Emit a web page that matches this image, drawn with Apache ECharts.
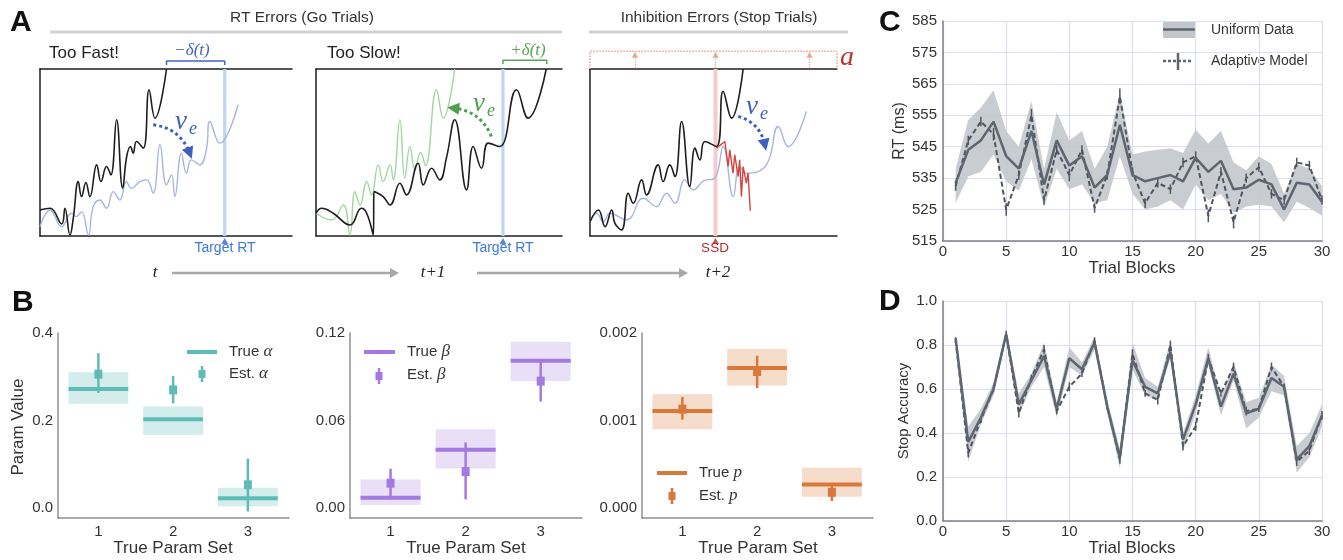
<!DOCTYPE html>
<html><head><meta charset="utf-8">
<script src="https://cdn.jsdelivr.net/npm/echarts@6.0.0/dist/echarts.min.js"></script>
<style>html,body{margin:0;padding:0;background:#fff}#c{width:1343px;height:560px}</style>
</head><body><div id="c"></div><script>
const F = '"Liberation Sans", Arial, Helvetica, sans-serif';
const SERIF = '"Liberation Serif", "Times New Roman", serif';

// ---------- Panel A : schematic traces, [x, y] in box units (0-100) ----------
const a1Black = [[0,15.6],[4,16.6],[8.6,7.2],[9.9,16.6],[11.9,0.6],[13.2,10.6],[15.2,32.6],[16.5,23.6],[18.2,32],[19.8,23.6],[22.5,42.6],[24.2,32.6],[26.4,41.6],[28.1,36.6],[30.4,69.6],[32.8,28.6],[34.4,47.6],[35.9,53.6],[37,49.6],[38.3,56.6],[41,52.6],[43.3,87.6],[45.6,70.6],[50.2,100]];
const a1Blue = [[0,5.6],[4,15.6],[8.6,5.6],[12.5,13.6],[14.5,11.6],[16.5,14.6],[19.2,0.6],[21.1,17.6],[23.8,21.6],[26.4,16.6],[29.1,26.6],[31.7,21.6],[34.3,32.6],[36.3,28.6],[39.6,32.6],[42.3,33.6],[44.9,25.6],[47.6,54.6],[50.2,30.6],[52.2,36.6],[53.5,23.6],[56.1,49.6],[58.1,37.6],[60.1,45.6],[63.4,42.6],[66,51.6],[67.4,68.6],[71.3,55.6],[78.6,78.6]];
const a2Black = [[0,13.6],[2.3,16.6],[7,13.6],[13.8,6.6],[18.5,16.6],[20.6,13.6],[23.3,0.6],[23.6,26.6],[27.3,23.6],[30.1,18.6],[34.1,31.6],[36.8,24.6],[41.5,43.6],[43.6,30.6],[47,40.6],[50.3,33.6],[53,46.6],[56.4,69.6],[61.2,27.6],[63.9,53.6],[67.3,40.6],[70,55.6],[74.7,53.6],[81.5,87.6],[86.2,70.6],[93.6,100]];
const a2Green = [[0,13.6],[6.4,9.6],[11.1,18.6],[13.8,0.6],[15.8,26.6],[17.9,18.6],[20.6,32.6],[22.6,24.6],[25.3,42.6],[27.3,32.6],[30.1,42.6],[31.4,33.6],[34.1,69.6],[36.1,34.6],[38.2,53.6],[40.2,39.6],[42.5,50],[44.5,42],[49,87.6],[51.7,70.6],[56.4,100]];
const a3Black = [[0,8.6],[3.4,15.6],[6.1,5.6],[8.8,15.6],[10.1,7.6],[12.8,3.6],[15.5,25.6],[17.5,19.6],[20.9,33.6],[22.9,24.6],[27.6,42.6],[29.6,32.6],[32.3,42.6],[34.4,35.6],[37.1,68.6],[40.4,29.6],[42.5,52.6],[44.5,45.6],[46.5,56.6],[51.2,53.6],[53.9,86.6],[57.3,70.6],[62,100]];
const a3Blue = [[0,8.6],[2.7,13.6],[5.4,8.6],[8.1,13.6],[14.8,9.6],[21.6,22.6],[26.9,17.6],[31,25.6],[34.4,19.6],[38.4,33.6],[41.8,27.6],[46,33],[50.5,34.6],[53.9,53.6],[58,23.6],[60.6,41.6],[63.3,37.6],[71.4,42.6],[76.2,65.6],[80.2,53.6],[87.6,74.6]];
const a3Red = [[51.2,52.6],[54.6,56.6],[55.9,41.6],[56.6,51.6],[57.9,37.6],[58.6,48.6],[60,35.6],[60.6,45.6],[61.3,23.6],[62,41.6],[63.3,31.6],[64,37.6],[64.9,15.2]];
const a1TargetRT = 73.3, a2TargetRT = 76.0, a3SSD = 50.8;
const a1Arrow = [[44.9,66.6],[59.4,49.6]];
const a2Arrow = [[71.3,59.6],[55.8,76.6]];
const a3Arrow = [[60,71.6],[70.8,54.6]];
const a3ThreshArrowsX = [18.2, 50.8, 88.9];

// ---------- Panel B ----------
const paramSets = [1, 2, 3];
const alphaTrue = [0.272, 0.203, 0.022];
const alphaBandLo = [0.238, 0.167, 0.004];
const alphaBandHi = [0.310, 0.232, 0.046];
const alphaEst = [0.306, 0.270, 0.053];
const alphaEstLo = [0.263, 0.239, -0.008];
const alphaEstHi = [0.354, 0.302, 0.113];
const betaTrue = [0.007, 0.040, 0.101];
const betaBandLo = [0.002, 0.027, 0.087];
const betaBandHi = [0.0195, 0.054, 0.114];
const betaEst = [0.017, 0.025, 0.087];
const betaEstLo = [0.006, 0.006, 0.073];
const betaEstHi = [0.027, 0.045, 0.102];
const pTrue = [0.00111, 0.00160, 0.00027];
const pBandLo = [0.00090, 0.00140, 0.00013];
const pBandHi = [0.00130, 0.00182, 0.00046];
const pEst = [0.00113, 0.00156, 0.00018];
const pEstLo = [0.00101, 0.00137, 0.00008];
const pEstHi = [0.00127, 0.00174, 0.00028];

// ---------- Panel C ----------
const blocks = [1,2,3,4,5,6,7,8,9,10,11,12,13,14,15,16,17,18,19,20,21,22,23,24,25,26,27,28,29,30];
const rtMean = [533.5,544,547,553,542,538,550,533,547,539,542,532,536,552,536,534,535,536,534,541.5,537,540.5,531.5,532,534.5,533,525,533.5,533,527.5];
const rtLo = [527,535.5,537,542.5,534,531,541,526,538,531.5,533,527,528,542,530,525,526,528,525,533,528,530,524,526,526.5,526,521,527.5,525.5,523];
const rtHi = [538,553.5,557.5,563,550,545,559.5,538,556,547,550,538,545,562,542.5,543.5,544,544.5,543,550.5,546,550,540,537.5,542,539.5,530,539.5,538,532.5];
const rtModel = [532.5,547,553,549,525,536,555,528,544,536,544,525.5,536,561,537,527,533.5,531.5,540,542,523,537,521,535,538.5,530,528,540,539,528];
const rtModelErr = [1.5,1.5,1.5,2,2,1.5,2,1.5,1.5,2,1.5,1.5,1.5,2.5,1.5,1.5,1.5,1.5,1.5,1.5,2,1.5,2,1.5,1.5,1.5,1.5,1.5,1.5,1.5];

// ---------- Panel D ----------
const accMean = [0.83,0.36,0.47,0.60,0.85,0.53,0.64,0.75,0.51,0.74,0.69,0.81,0.52,0.29,0.73,0.61,0.58,0.77,0.37,0.53,0.74,0.52,0.67,0.49,0.51,0.65,0.61,0.28,0.34,0.48];
const accLo = [0.81,0.27,0.44,0.57,0.83,0.48,0.61,0.70,0.47,0.70,0.66,0.78,0.49,0.24,0.69,0.57,0.55,0.74,0.32,0.49,0.71,0.48,0.64,0.42,0.47,0.59,0.57,0.22,0.29,0.43];
const accHi = [0.85,0.43,0.51,0.63,0.87,0.58,0.67,0.81,0.54,0.79,0.72,0.84,0.55,0.33,0.81,0.65,0.61,0.82,0.40,0.57,0.79,0.56,0.72,0.54,0.56,0.71,0.66,0.34,0.40,0.53];
const accModel = [0.82,0.31,0.46,0.60,0.85,0.49,0.65,0.78,0.50,0.61,0.67,0.82,0.52,0.28,0.76,0.58,0.55,0.80,0.34,0.43,0.74,0.58,0.70,0.50,0.51,0.70,0.61,0.27,0.32,0.48];
const accModelErr = [0.015,0.02,0.015,0.015,0.015,0.02,0.015,0.02,0.015,0.02,0.015,0.015,0.015,0.02,0.02,0.015,0.02,0.02,0.02,0.02,0.02,0.015,0.02,0.02,0.015,0.02,0.015,0.02,0.02,0.02];

// ================= chart =================
const chart = echarts.init(document.getElementById('c'));
const grids = [
  {left:40, top:69, width:252, height:167},
  {left:316, top:69, width:246, height:167},
  {left:590, top:69, width:247, height:167},
  {left:58, top:333, width:231, height:185},
  {left:350, top:333, width:232, height:185},
  {left:642, top:333, width:231, height:185},
  {left:943, top:21, width:379, height:220},
  {left:943, top:301, width:379, height:220}
].map(g => Object.assign({outerBoundsMode:'none', containLabel:false}, g));

const BOX = '#1e1e1e';
const boxAxis = (gi, pos) => ({gridIndex:gi, type:'value', min:0, max:100, position:pos,
  axisLine:{show:true, onZero:false, lineStyle:{color:BOX, width:1.5}},
  axisTick:{show:false}, axisLabel:{show:false}, splitLine:{show:false}});
const BAX = '#8c8f94';
const bX = gi => ({gridIndex:gi, type:'value', min:0.46, max:3.55,
  axisLine:{show:true, onZero:false, lineStyle:{color:BAX, width:1.5}},
  axisTick:{show:false}, splitLine:{show:false},
  axisLabel:{customValues:paramSets, margin:6, fontSize:15, color:'#333', fontFamily:F}});
const bY = (gi, min, max, ticks, dec) => ({gridIndex:gi, type:'value', min, max,
  axisLine:{show:true, onZero:false, lineStyle:{color:BAX, width:1.5}},
  axisTick:{show:false}, splitLine:{show:false},
  axisLabel:{customValues:ticks, formatter:v => v.toFixed(dec), margin:5, fontSize:15, color:'#333', fontFamily:F}});
const CAX = '#7d8189', CGRID = '#dcdcf3';
const cX = gi => ({gridIndex:gi, type:'value', min:0, max:30, interval:5,
  axisLine:{show:true, onZero:false, lineStyle:{color:CAX, width:1.5}},
  axisTick:{show:false}, splitLine:{show:true, lineStyle:{color:CGRID, width:1.2}},
  axisLabel:{margin:3, fontSize:15, color:'#333', fontFamily:F}});

const xAxis = [boxAxis(0,'bottom'), boxAxis(1,'bottom'), boxAxis(2,'bottom'), bX(3), bX(4), bX(5), cX(6), cX(7),
  boxAxis(0,'top'), boxAxis(1,'top'), boxAxis(2,'top')];
const yAxis = [boxAxis(0,'left'), boxAxis(1,'left'), boxAxis(2,'left'),
  bY(3, -0.0229, 0.4, [0, 0.2, 0.4], 1),
  bY(4, -0.00686, 0.12, [0, 0.06, 0.12], 2),
  bY(5, -0.000114, 0.002, [0, 0.001, 0.002], 3),
  {gridIndex:6, type:'value', min:515, max:585, interval:10,
   axisLine:{show:true, onZero:false, lineStyle:{color:CAX, width:1.5}}, axisTick:{show:false},
   splitLine:{show:true, lineStyle:{color:CGRID, width:1.2}},
   axisLabel:{margin:6, fontSize:15, color:'#333', fontFamily:F}},
  {gridIndex:7, type:'value', min:0, max:1, interval:0.2,
   axisLine:{show:true, onZero:false, lineStyle:{color:CAX, width:1.5}}, axisTick:{show:false},
   splitLine:{show:true, lineStyle:{color:CGRID, width:1.2}},
   axisLabel:{margin:6, fontSize:15, color:'#333', fontFamily:F, formatter:v => v.toFixed(1)}}
];

const series = [];
function addLine(gi, data, color, width, smooth, z, type) {
  series.push({type:'line', xAxisIndex:gi, yAxisIndex:gi, data, symbol:'none', smooth:smooth, clip:false,
    silent:true, z:z || 2, lineStyle:{color, width, type:type || 'solid'}});
}
function addArrow(gi, coords, color, width, curv, size, type) {
  series.push({type:'lines', coordinateSystem:'cartesian2d', xAxisIndex:gi, yAxisIndex:gi, clip:false, silent:true, z:5,
    data:[{coords}], symbol:['none','triangle'], symbolSize:size,
    lineStyle:{color, width, type:type || 'dotted', curveness:curv, opacity:1}});
}
function addTri(gi, x, color) {
  series.push({type:'scatter', xAxisIndex:gi, yAxisIndex:gi, data:[[x,0]], symbol:'triangle', symbolSize:[7,6],
    symbolOffset:[0,5], clip:false, silent:true, itemStyle:{color}, z:4});
}

// A1
addLine(0, [[a1TargetRT,0],[a1TargetRT,100]], '#bfd4f6', 3.2, false, 1);
addLine(0, a1Blue, '#a6b6e2', 1.4, 0.45);
addLine(0, a1Black, '#1e1e1e', 1.6, 0.45, 3);
addLine(0, [[50.2,102.4],[50.2,104.8],[a1TargetRT,104.8],[a1TargetRT,102.4]], '#4563c0', 1.5, false);
addArrow(0, a1Arrow, '#3f5fbf', 3, 0.3, 12);
addTri(0, a1TargetRT, '#3c64c8');
// A2
addLine(1, [[a2TargetRT,0],[a2TargetRT,100]], '#bfd4f6', 3.2, false, 1);
addLine(1, a2Green, '#a2d5a0', 1.4, 0.45);
addLine(1, a2Black, '#1e1e1e', 1.6, 0.45, 3);
addLine(1, [[a2TargetRT,103],[a2TargetRT,105.2],[93.8,105.2],[93.8,103]], '#58a558', 1.5, false);
addArrow(1, a2Arrow, '#4f9f4f', 3, -0.3, 12);
addTri(1, a2TargetRT, '#3c64c8');
// A3
addLine(2, [[a3SSD,0],[a3SSD,100]], '#f5cccc', 4, false, 1);
addLine(2, a3Blue, '#a6b6e2', 1.4, 0.45);
addLine(2, a3Black, '#1e1e1e', 1.6, 0.45, 3);
addLine(2, a3Red, '#d6443f', 1.4, false, 4);
addLine(2, [[0,100],[0,110.6],[100,110.6],[100,100]], '#e6a596', 1.5, false, 2, 'dotted');
a3ThreshArrowsX.forEach(x => addArrow(2, [[x,100.5],[x,108.6]], '#e6a596', 1.3, 0, 6));
addArrow(2, a3Arrow, '#3f5fbf', 3, 0.3, 12);
addTri(2, a3SSD, '#b0302c');

// B
function trueRender(color, band) {
  return function(params, api) {
    const x = api.value(0), lo = api.value(1), hi = api.value(2), v = api.value(3);
    const a = api.coord([x - 0.4, hi]), b = api.coord([x + 0.4, lo]);
    const c1 = api.coord([x - 0.4, v]), c2 = api.coord([x + 0.4, v]);
    return {type:'group', children:[
      {type:'rect', shape:{x:a[0], y:a[1], width:b[0]-a[0], height:b[1]-a[1]}, style:{fill:band}},
      {type:'line', shape:{x1:c1[0], y1:c1[1], x2:c2[0], y2:c2[1]}, style:{stroke:color, lineWidth:4}}
    ]};
  };
}
function estRender(color) {
  return function(params, api) {
    const x = api.value(0);
    const a = api.coord([x, api.value(1)]), b = api.coord([x, api.value(2)]), c = api.coord([x, api.value(3)]);
    return {type:'group', children:[
      {type:'line', shape:{x1:a[0], y1:a[1], x2:b[0], y2:b[1]}, style:{stroke:color, lineWidth:2.5}},
      {type:'rect', shape:{x:c[0]-4, y:c[1]-4.5, width:8, height:9}, style:{fill:color}}
    ]};
  };
}
function addB(gi, tv, blo, bhi, ev, elo, ehi, color, band) {
  series.push({type:'custom', xAxisIndex:gi, yAxisIndex:gi, silent:true, z:2,
    data: paramSets.map((s,i) => [s, blo[i], bhi[i], tv[i]]), renderItem: trueRender(color, band)});
  series.push({type:'custom', xAxisIndex:gi, yAxisIndex:gi, silent:true, z:3,
    data: paramSets.map((s,i) => [s, elo[i], ehi[i], ev[i]]), renderItem: estRender(color)});
}
const TEAL = '#5fbcb4', PURP = '#a379e3', ORNG = '#d9783b';
addB(3, alphaTrue, alphaBandLo, alphaBandHi, alphaEst, alphaEstLo, alphaEstHi, TEAL, '#d3ecec');
addB(4, betaTrue, betaBandLo, betaBandHi, betaEst, betaEstLo, betaEstHi, PURP, '#e9e0f8');
addB(5, pTrue, pBandLo, pBandHi, pEst, pEstLo, pEstHi, ORNG, '#f5dccb');

// C & D
const BAND = '#c3c6cb', MEAN = '#5e6470', MODEL = '#50555e';
function bandRender(params, api) {
  // one polygon through all (x, hi) points, then back along (x, lo)
  if (params.dataIndex !== 0) return null;
  const n = params.dataInsideLength;
  const data = params.context.rows;
  const top = [], bot = [];
  for (let i = 0; i < data.length; i++) {
    top.push(api.coord([data[i][0], data[i][2]]));
    bot.push(api.coord([data[i][0], data[i][1]]));
  }
  return {type:'polygon', shape:{points: top.concat(bot.reverse())}, style:{fill:BAND, opacity:0.9}};
}
function errRender(params, api) {
  const x = api.value(0);
  const p1 = api.coord([x, api.value(1)]), p2 = api.coord([x, api.value(2)]);
  return {type:'line', shape:{x1:p1[0], y1:p1[1], x2:p2[0], y2:p2[1]}, style:{stroke:MODEL, lineWidth:1.5}};
}
function addCD(gi, mean, lo, hi, model, err) {
  const rows = blocks.map((x,i) => [x, lo[i], hi[i]]);
  series.push({type:'custom', xAxisIndex:gi, yAxisIndex:gi, silent:true, z:1, data: rows,
    renderItem: (params, api) => { params.context.rows = rows; return bandRender(params, api); }});
  series.push({type:'custom', xAxisIndex:gi, yAxisIndex:gi, silent:true, z:2,
    data: blocks.map((x,i) => [x, model[i] - err[i], model[i] + err[i]]), renderItem: errRender});
  series.push({type:'line', xAxisIndex:gi, yAxisIndex:gi, symbol:'none', silent:true, z:3,
    data: blocks.map((x,i) => [x, model[i]]), lineStyle:{color:MODEL, width:2, type:[5,3]}});
  series.push({type:'line', xAxisIndex:gi, yAxisIndex:gi, symbol:'none', silent:true, z:4,
    data: blocks.map((x,i) => [x, mean[i]]), lineStyle:{color:MEAN, width:2.5}});
}
addCD(6, rtMean, rtLo, rtHi, rtModel, rtModelErr);
addCD(7, accMean, accLo, accHi, accModel, accModelErr);

// ---------- graphic texts & legends ----------
const T = (x, y, text, font, fill, align, rot) => ({type:'text', x, y, rotation:rot || 0, silent:true,
  style:{text, font, fill:fill || '#222', textAlign:align || 'left', textVerticalAlign:'middle'}});
const R = (x, y, text, rich, align) => ({type:'text', x, y, silent:true,
  style:{text, rich, textAlign:align || 'left', textVerticalAlign:'middle'}});
const L = (x1, y1, x2, y2, stroke, lineWidth, dash) => ({type:'line', silent:true,
  shape:{x1, y1, x2, y2}, style:{stroke, lineWidth, lineDash:dash || null}});
const P = (pts, fill) => ({type:'polygon', silent:true, shape:{points:pts}, style:{fill}});
const Rc = (x, y, w, h, fill) => ({type:'rect', silent:true, shape:{x, y, width:w, height:h}, style:{fill}});

const BOLD = 'bold 30px ' + F;
const legRich = () => ({n:{font:'15px ' + F, fill:'#333'}, g:{font:'italic 17px ' + SERIF, fill:'#333'}});
const g = [
  T(10, 23, 'A', BOLD, '#111'), T(12, 303, 'B', BOLD, '#111'),
  T(879, 23, 'C', BOLD, '#111'), T(879, 302, 'D', BOLD, '#111'),
  T(302, 18, 'RT Errors (Go Trials)', '15.5px ' + F, '#333', 'center'),
  L(50, 32, 562, 32, '#d2d2d2', 3),
  T(719, 18, 'Inhibition Errors (Stop Trials)', '15.5px ' + F, '#333', 'center'),
  L(589, 32, 848, 32, '#d2d2d2', 3),
  T(49, 53, 'Too Fast!', '17px ' + F, '#222'),
  T(327, 53, 'Too Slow!', '17px ' + F, '#222'),
  T(192, 51, '\u2212\u03b4(t)', 'italic 17px ' + SERIF, '#4563c0', 'center'),
  T(528, 51, '+\u03b4(t)', 'italic 17px ' + SERIF, '#58a558', 'center'),
  T(225, 248, 'Target RT', '14px ' + F, '#3d78e0', 'center'),
  T(503, 248, 'Target RT', '14px ' + F, '#3d78e0', 'center'),
  T(715, 248, 'SSD', '13.5px ' + F, '#b0302c', 'center'),
  T(840, 58, 'a', 'italic 28px ' + SERIF, '#c0302a'),
  T(175, 122, '\u03bd', 'italic 27px ' + SERIF, '#3f5fbf'), T(189, 129, 'e', 'italic 18px ' + SERIF, '#3f5fbf'),
  T(473, 104, '\u03bd', 'italic 27px ' + SERIF, '#4f9f4f'), T(487, 111, 'e', 'italic 18px ' + SERIF, '#4f9f4f'),
  T(746, 107, '\u03bd', 'italic 27px ' + SERIF, '#3f5fbf'), T(760, 114, 'e', 'italic 18px ' + SERIF, '#3f5fbf'),
  T(155, 273, 't', 'italic 17px ' + SERIF, '#222', 'center'),
  L(172, 273, 391, 273, '#a8a8a8', 2.5), P([[390,268],[399,273],[390,278]], '#a8a8a8'),
  T(433, 273, 't+1', 'italic 17px ' + SERIF, '#222', 'center'),
  L(477, 273, 680, 273, '#a8a8a8', 2.5), P([[679,268],[688,273],[679,278]], '#a8a8a8'),
  T(718, 273, 't+2', 'italic 17px ' + SERIF, '#222', 'center'),
  T(18, 427, 'Param Value', '17px ' + F, '#333', 'center', Math.PI / 2),
  T(173, 548, 'True Param Set', '17px ' + F, '#333', 'center'),
  T(466, 548, 'True Param Set', '17px ' + F, '#333', 'center'),
  T(758, 548, 'True Param Set', '17px ' + F, '#333', 'center'),
  L(187, 352, 217, 352, TEAL, 4), R(229, 352, '{n|True }{g|\u03b1}', legRich()),
  L(202, 366, 202, 382, TEAL, 2.5), Rc(198.5, 370, 7, 8, TEAL), R(229, 374, '{n|Est. }{g|\u03b1}', legRich()),
  L(364, 352, 395, 352, PURP, 4), R(407, 352, '{n|True }{g|\u03b2}', legRich()),
  L(379, 368, 379, 384, PURP, 2.5), Rc(375.5, 372, 7, 8, PURP), R(407, 375, '{n|Est. }{g|\u03b2}', legRich()),
  L(657, 473, 687, 473, ORNG, 4), R(699, 473, '{n|True }{g|p}', legRich()),
  L(672, 488, 672, 504, ORNG, 2.5), Rc(668.5, 492, 7, 8, ORNG), R(699, 496, '{n|Est. }{g|p}', legRich()),
  T(900, 131, 'RT (ms)', '16px ' + F, '#333', 'center', Math.PI / 2),
  T(1132, 268, 'Trial Blocks', '17px ' + F, '#333', 'center'),
  T(904, 411, 'Stop Accuracy', '15px ' + F, '#333', 'center', Math.PI / 2),
  T(1132, 548, 'Trial Blocks', '17px ' + F, '#333', 'center'),
  Rc(1163, 21, 32, 17, BAND), L(1163, 29.5, 1195, 29.5, MEAN, 2.5),
  T(1211, 30, 'Uniform Data', '14px ' + F, '#333'),
  L(1163, 61, 1193, 61, MEAN, 2.5, [3,2]), L(1178, 52, 1178, 70, MEAN, 2.5),
  T(1211, 61, 'Adaptive Model', '14px ' + F, '#333')
];

chart.setOption({
  animation:false, backgroundColor:'#fff',
  grid:grids, xAxis, yAxis, series,
  graphic:{elements:g}
});
</script></body></html>
